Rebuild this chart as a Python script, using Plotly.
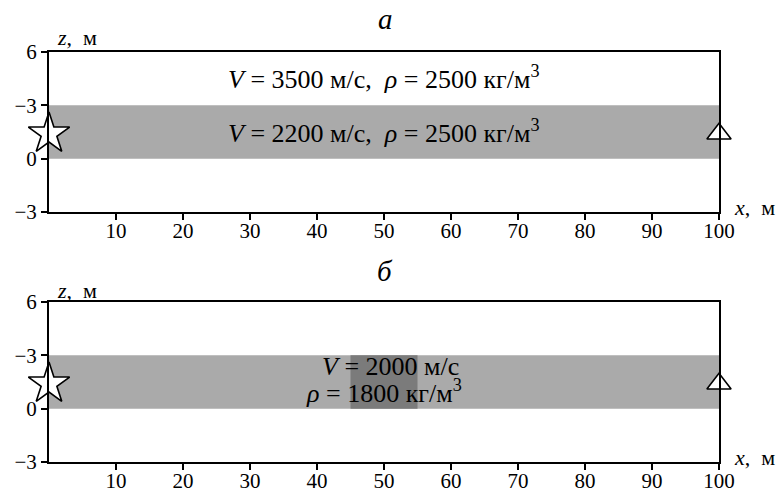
import plotly.graph_objects as go
from plotly.subplots import make_subplots

# Model geometry and labels
x_tickvals = [10, 20, 30, 40, 50, 60, 70, 80, 90, 100]
y_tickvals = [6, 3, 0, -3]
y_ticktext = ["6", "\u22123", "0", "\u22123"]
x_range = [0, 100]
z_range = [-3, 6]
layer_top = 3
layer_bottom = 0
inclusion_x = [45, 55]
source_x, source_z = 0, 1.4
receiver_x, receiver_z = 100, 1.4
panel_titles = ["а", "б"]
top_text = [
    "<i>V</i> = 3500 м/с,  <i>ρ</i> = 2500 кг/м<sup>3</sup>",
    "<i>V</i> = 2200 м/с,  <i>ρ</i> = 2500 кг/м<sup>3</sup>",
]
incl_text = ["<i>V</i> = 2000 м/с", "<i>ρ</i> = 1800 кг/м<sup>3</sup>"]

FONT = "Liberation Serif, Times New Roman, Times, serif"
LAYER = "#aaaaaa"
INCL = "#7b7b7b"

W, H = 781, 491
ml, mr, mt, mb = 49, 62, 52, 29
ph = H - mt - mb  # plotting height in px

fig = make_subplots(rows=2, cols=1)
dom_a = [(462 - 212) / ph, 1.0]
dom_b = [0.0, (462 - 302) / ph]
fig.update_layout(yaxis=dict(domain=dom_a), yaxis2=dict(domain=dom_b))

for r in (1, 2):
    xr = "x" if r == 1 else "x2"
    yr = "y" if r == 1 else "y2"
    # low-velocity layer
    fig.add_shape(type="rect", xref=xr, yref=yr, x0=x_range[0], x1=x_range[1],
                  y0=layer_bottom, y1=layer_top, fillcolor=LAYER,
                  line=dict(width=0), layer="below")
    # source
    fig.add_trace(go.Scatter(x=[source_x], y=[source_z], mode="markers",
                             marker=dict(symbol="star", size=31, color="white",
                                         line=dict(color="black", width=1.6)),
                             cliponaxis=False, showlegend=False), row=r, col=1)
    # receiver
    fig.add_trace(go.Scatter(x=[receiver_x], y=[receiver_z], mode="markers",
                             marker=dict(symbol="triangle-up", size=21, color="white",
                                         line=dict(color="black", width=1.6)),
                             cliponaxis=False, showlegend=False), row=r, col=1)

# inclusion in panel b
fig.add_shape(type="rect", xref="x2", yref="y2", x0=inclusion_x[0], x1=inclusion_x[1],
              y0=layer_bottom, y1=layer_top, fillcolor=INCL,
              line=dict(width=0), layer="below")

axis_common = dict(showline=True, linecolor="black", linewidth=2, mirror=True,
                   showgrid=False, zeroline=False, ticks="outside", ticklen=6,
                   tickwidth=1.5, tickcolor="black", automargin=False,
                   tickfont=dict(family=FONT, size=21, color="black"))
for r in (1, 2):
    fig.update_xaxes(range=x_range, tickvals=x_tickvals, ticklabelstandoff=-7,
                     row=r, col=1, **axis_common)
    fig.update_yaxes(range=z_range, tickvals=y_tickvals, ticktext=y_ticktext,
                     row=r, col=1, **axis_common)

anns = []
def px_to_paper(xp, yp):
    return (xp - ml) / (W - ml - mr), (H - mb - yp) / ph

def label(xp, yp, text, size, xanchor="center"):
    x0, y0 = px_to_paper(xp, yp)
    anns.append(dict(x=x0, y=y0, xref="paper", yref="paper", xanchor=xanchor,
                     yanchor="middle", text=text, showarrow=False,
                     font=dict(family=FONT, size=size, color="black")))

for title, yp in zip(panel_titles, [19, 271]):
    label(385, yp, f"<i>{title}</i>", 29)
for yp in [38, 290]:
    label(55, yp, "<i>z</i>,  м", 22, "left")
for yp in [207, 457]:
    label(732, yp, "<i>x</i>,  м", 22, "left")
for txt, yp in zip(top_text, [78, 131]):
    label(384, yp, txt, 26)
for txt, xp, yp in zip(incl_text, [390, 384], [366, 391]):
    label(xp, yp, txt, 26)

fig.update_layout(width=W, height=H, margin=dict(l=ml, r=mr, t=mt, b=mb),
                  paper_bgcolor="white", plot_bgcolor="white",
                  annotations=anns, showlegend=False)

fig.write_html("out.html")
